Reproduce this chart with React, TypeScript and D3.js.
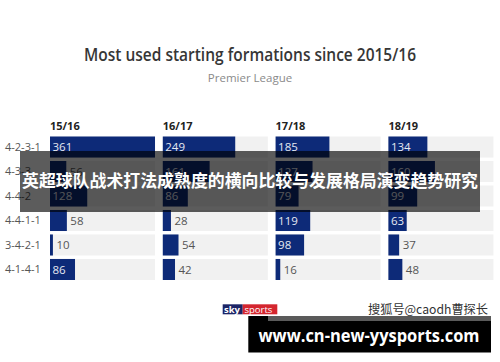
import React from "react";
import * as d3 from "d3";

const seasons = ["15/16", "16/17", "17/18", "18/19"];
const formations = ["4-2-3-1", "4-3-3", "4-4-2", "4-4-1-1", "3-4-2-1", "4-1-4-1"];
const values1516 = [361, 56, 128, 58, 10, 86];
const values1617 = [249, 161, 86, 28, 54, 42];
const values1718 = [185, 127, 79, 119, 98, 16];
const values1819 = [134, 160, 99, 63, 37, 48];
const seriesValues = [values1516, values1617, values1718, values1819];
const maxValue = 361;

const title = "Most used starting formations since 2015/16";
const subtitle = "Premier League";
const overlayText = "英超球队战术打法成熟度的横向比较与发展格局演变趋势研究";
const sourceText = "搜狐号@caodh曹探长";
const watermark = "www.cn-new-yysports.com";

const W = 500;
const H = 362;
const NAVY = "#0d2a78";
const FONT = "'Open Sans', 'Noto Sans', sans-serif";
const CJK = "'Noto Sans CJK SC', sans-serif";

export default function App() {
  const col = d3.scaleBand<string>().domain(seasons).range([50, 493.4]).paddingInner(0.069).paddingOuter(0);
  const row = d3.scaleBand<string>().domain(formations).range([136.5, 280]).paddingInner(0.141).paddingOuter(0);
  const x = d3.scaleLinear().domain([0, maxValue]).range([0, col.bandwidth()]);
  const bh = row.bandwidth();

  return (
    <svg width={W} height={H} style={{ position: "absolute", left: 0, top: 0, background: "#fff" }}>
      <rect width={W} height={H} fill="#fff" />
      <text x={250} y={60.5} textAnchor="middle" fontFamily={FONT} fontWeight={600} fontSize={18} fill="#363636" textLength={332} lengthAdjust="spacingAndGlyphs">
        {title}
      </text>
      <text x={250} y={82} textAnchor="middle" fontFamily={FONT} fontSize={11.5} fill="#8a8a8a">
        {subtitle}
      </text>

      {formations.map((f) => (
        <text key={f} x={5} y={(row(f) as number) + bh / 2} dy="0.35em" fontFamily={FONT} fontSize={11} fill="#555">
          {f}
        </text>
      ))}

      {seasons.map((s, si) => {
        const cx = col(s) as number;
        return (
          <g key={s}>
            <text x={cx} y={130} fontFamily={FONT} fontWeight={700} fontSize={11} fill="#222">
              {s}
            </text>
            {formations.map((f, fi) => {
              const v = seriesValues[si][fi];
              const y = row(f) as number;
              const w = x(v);
              const inside = w > 17.5;
              return (
                <g key={f}>
                  <rect x={cx} y={y} width={col.bandwidth()} height={bh} fill="#f1f1f1" />
                  <rect x={cx} y={y} width={w} height={bh} fill={NAVY} />
                  <text
                    x={inside ? cx + 2.5 : cx + w + 3.5}
                    y={y + bh / 2}
                    dy="0.35em"
                    fontFamily={FONT}
                    fontSize={11.5}
                    fill={inside ? "#e6e9f2" : "#555"}
                  >
                    {v}
                  </text>
                </g>
              );
            })}
          </g>
        );
      })}

      <rect x={20} y={151} width={460} height={61} fill="#000" fillOpacity={0.64} />
      <text x={250} y={181.5} dy="0.35em" textAnchor="middle" fontFamily={CJK} fontWeight={700} fontSize={17} fill="#fff" textLength={456} lengthAdjust="spacingAndGlyphs">
        {overlayText}
      </text>

      <rect x={222.7} y={304.3} width={20} height={10} fill="#1b2466" />
      <rect x={242.7} y={304.3} width={34.6} height={10} fill="#d4262f" />
      <text x={224} y={312.6} fontFamily={FONT} fontWeight={700} fontSize={9.5} fill="#fff">sky</text>
      <text x={244.5} y={312.6} fontFamily={FONT} fontSize={9.5} fill="#fff">sports</text>

      <text x={488} y={310} dy="0.35em" textAnchor="end" fontFamily={CJK} fontSize={12.5} fill="#333" textLength={120} lengthAdjust="spacingAndGlyphs">
        {sourceText}
      </text>

      <rect x={248.3} y={316} width={242.7} height={36.5} fill="#000" />
      <rect x={268} y={316} width={223} height={5} fill="#5a5a5a" />
      <text x={369} y={341.5} textAnchor="middle" fontFamily={FONT} fontWeight={700} fontSize={17.5} fill="#fff" textLength={221} lengthAdjust="spacingAndGlyphs">
        {watermark}
      </text>
    </svg>
  );
}
